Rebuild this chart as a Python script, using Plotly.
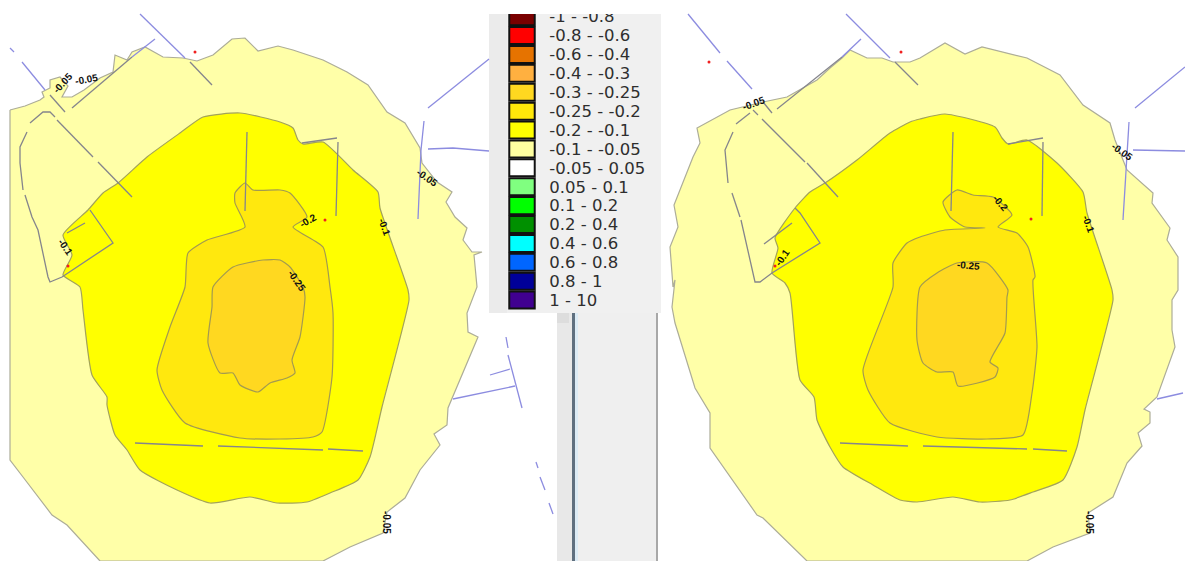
import plotly.graph_objects as go

# ---------- legend ----------
legend_labels = ["-1 - -0.8", "-0.8 - -0.6", "-0.6 - -0.4", "-0.4 - -0.3", "-0.3 - -0.25", "-0.25 - -0.2",
                 "-0.2 - -0.1", "-0.1 - -0.05", "-0.05 - 0.05", "0.05 - 0.1", "0.1 - 0.2", "0.2 - 0.4",
                 "0.4 - 0.6", "0.6 - 0.8", "0.8 - 1", "1 - 10"]
legend_colors = ["#7a0000", "#ff0000", "#e67300", "#ffb040", "#ffd820", "#ffe80a", "#ffff00", "#ffffa0",
                 "#ffffff", "#80ff80", "#00ff00", "#009000", "#00ffff", "#0066ff", "#000099", "#400090"]

# ---------- left map contours ----------
L_band_010 = [(10,110),(25,106),(40,100),(44,97),(42,92),(50,88),(50,80),(60,77),(68,86),(62,97),(72,97),(84,90),(100,78),(113,72),(115,55),
              (127,60),(132,52),(145,47),(163,57),(183,58),(197,61),(213,55),(232,39),(245,38),(258,51),(278,46),
              (293,50),(323,60),(347,72),(368,85),(387,112),(405,123),(420,148),(422,163),(437,182),(452,192),
              (446,202),(455,217),(467,228),(463,240),(472,252),(482,252),(474,255),(477,287),(467,313),(468,332),
              (478,337),(455,392),(448,408),(447,425),(434,434),(440,445),(420,470),(405,498),(387,512),(383,533),
              (350,547),(323,561),(100,561),(67,525),(52,515),(23,477),(10,460)]
L_band_020 = [(63,235),(88,210),(103,193),(118,183),(147,157),(180,133),(203,117),(240,113),(280,122),(293,128),
              (298,140),(303,144),(323,142),(353,170),(378,192),(380,208),(408,290),(409,300),(382,407),(370,457),
              (358,480),(330,493),(307,502),(277,503),(250,497),(210,503),(177,490),(140,470),(127,450),(115,435),
              (107,405),(107,397),(92,375),(83,310),(80,287),(63,275),(72,255)]
L_band_025 = [(253,190),(245,183),(235,193),(235,203),(245,227),(207,240),(188,253),(185,287),(170,327),(157,370),
              (162,390),(185,423),(240,438),(280,439),(313,437),(322,432),(332,377),(333,313),(330,287),(323,247),
              (293,227),(307,217),(290,193),(280,190)]
L_band_030 = [(233,267),(263,260),(280,260),(290,267),(303,287),(305,297),(300,337),(292,360),(295,373),(287,378),
              (270,383),(258,392),(240,385),(233,373),(220,373),(208,343),(212,307),(213,287)]

# ---------- right map contours ----------
R_band_010 = [(673,287),(670,247),(678,227),(674,205),(693,157),(700,143),(697,128),(730,110),(763,102),(787,97),
              (817,80),(830,68),(842,58),(850,50),(867,58),(882,58),(893,62),(910,62),(920,58),(945,43),(965,54),
              (982,47),(1027,58),(1060,75),(1083,105),(1110,123),(1115,140),(1127,170),(1153,193),(1152,203),
              (1170,228),(1167,240),(1178,257),(1178,290),(1172,300),(1172,330),(1175,347),(1157,397),(1144,409),
              (1150,412),(1150,423),(1138,433),(1142,446),(1127,463),(1113,497),(1088,513),(1090,533),(1053,547),
              (1027,561),(807,561),(763,518),(757,515),(710,448),(710,413),(695,388),(675,323),(672,307),(675,280)]
R_band_020 = [(795,208),(810,192),(825,183),(857,160),(890,133),(910,122),(920,119),(945,114),(995,127),(1002,138),
              (1008,144),(1027,140),(1057,163),(1083,192),(1087,213),(1112,290),(1113,300),(1085,410),(1077,447),
              (1063,480),(1033,492),(1010,500),(980,502),(953,497),(917,502),(900,500),(873,485),(843,467),(830,447),
              (817,420),(814,397),(800,380),(790,293),(785,283),(772,273),(778,248),(775,238)]
R_band_025 = [(957,190),(943,202),(950,217),(965,227),(985,228),(945,230),(920,237),(907,243),(893,263),(893,287),
              (863,370),(868,390),(890,423),(937,437),(987,439),(1023,435),(1032,393),(1037,347),(1033,280),(1035,277),
              (1028,247),(1017,233),(998,227),(1012,215),(993,197),(973,195)]
R_band_030 = [(920,287),(937,273),(957,263),(987,263),(1008,290),(1007,297),(1005,333),(990,362),(998,368),(995,377),
              (958,386),(953,372),(937,372),(923,363),(917,340)]

# ---------- pipes ----------
L_pipes_gray = [[(72,108),(132,57)], [(50,95),(65,112)], [(190,62),(212,85)], [(57,120),(93,157)], [(98,162),(132,197)],
                [(30,123),(43,112),(50,112),(55,117)], [(27,132),(20,147),(20,163),(23,190)],
                [(25,195),(32,217),(38,230),(47,270),(48,277),(50,282),(62,277),(113,243),(90,210)],
                [(67,233),(85,223)], [(247,132),(245,211)], [(302,143),(337,138)], [(338,142),(336,216)],
                [(135,443),(203,446)], [(218,446),(323,450)], [(328,449),(363,451)]]
L_pipes_blue = [[(132,57),(155,39)], [(10,48),(14,52)], [(22,62),(45,90)], [(140,14),(185,58)],
                [(428,108),(489,59)], [(424,121),(421,150),(418,219)], [(428,149),(453,148),(489,151)],
                [(506,337),(508,348)], [(508,355),(522,408)], [(490,375),(510,369)], [(453,399),(515,386)],
                [(536,462),(538,468)], [(540,477),(545,490)], [(549,503),(553,514)]]
R_pipes_gray = [[(763,102),(772,113)], [(777,109),(842,57)], [(895,62),(918,85)], [(753,110),(758,115)],
                [(762,119),(805,162)], [(807,163),(838,197)], [(736,124),(750,113)], [(733,132),(725,150),(728,183)],
                [(732,193),(740,217)], [(741,220),(753,273),(755,282),(760,282),(772,273),(820,243),(800,213),(795,208)],
                [(764,244),(792,223)], [(953,132),(951,211)], [(1008,144),(1043,138)], [(1043,142),(1042,216)],
                [(840,443),(908,446)], [(923,446),(1027,449)], [(1033,449),(1067,451)]]
R_pipes_blue = [[(688,14),(720,53)], [(727,61),(752,89)], [(842,57),(861,39)], [(846,14),(890,58)],
                [(1135,108),(1185,67)], [(1129,122),(1123,220)], [(1133,150),(1185,151)], [(1157,399),(1183,393)]]

red_dots = [(195,52),(325,220),(68,266),(709,62),(901,52),(1031,219),(775,266)]

# text, x, y, angle
contour_labels = [("-0.05",62,83,-48),("-0.05",86,79,-10),("-0.1",66,247,55),("-0.2",308,220,-30),("-0.1",385,227,70),
                  ("-0.05",427,177,35),("-0.25",297,280,55),("-0.05",387,522,90),
                  ("-0.05",753,103,-20),("-0.1",782,257,-55),("-0.2",1001,203,50),("-0.25",968,265,5),
                  ("-0.1",1089,224,70),("-0.05",1122,151,35),("-0.05",1090,522,90)]

BAND_COLORS = {"010": "#ffffa8", "020": "#ffff00", "025": "#ffe80e", "030": "#ffd820"}
EDGES = {"010": "#adad98", "020": "#a3a35a", "025": "#a39a50", "030": "#a39a50"}

fig = go.Figure()


def band(points, key):
    xs = [p[0] for p in points] + [points[0][0]]
    ys = [p[1] for p in points] + [points[0][1]]
    line = dict(color=EDGES[key], width=1.2)
    if key != "010":
        line.update(shape="spline", smoothing=0.55)
    fig.add_trace(go.Scatter(x=xs, y=ys, mode="lines", fill="toself", fillcolor=BAND_COLORS[key],
                             line=line, hoverinfo="skip", showlegend=False))


def pipes(lines, color):
    xs, ys = [], []
    for ln in lines:
        xs += [p[0] for p in ln] + [None]
        ys += [p[1] for p in ln] + [None]
    fig.add_trace(go.Scatter(x=xs, y=ys, mode="lines", line=dict(color=color, width=1.3),
                             hoverinfo="skip", showlegend=False))


for pts, key in [(L_band_010, "010"), (L_band_020, "020"), (L_band_025, "025"), (L_band_030, "030"),
                 (R_band_010, "010"), (R_band_020, "020"), (R_band_025, "025"), (R_band_030, "030")]:
    band(pts, key)
pipes(L_pipes_gray + R_pipes_gray, "#85858c")
pipes(L_pipes_blue + R_pipes_blue, "#8c8ce0")
fig.add_trace(go.Scatter(x=[p[0] for p in red_dots], y=[p[1] for p in red_dots], mode="markers",
                         marker=dict(color="#f02020", size=3), hoverinfo="skip", showlegend=False))

fig.add_trace(go.Bar(y=legend_labels, x=[1] * len(legend_labels), orientation="h", width=0.9,
                     marker=dict(color=legend_colors, line=dict(color="#111111", width=2)),
                     xaxis="x2", yaxis="y2", hoverinfo="skip", showlegend=False))

annotations = [dict(text="<b>%s</b>" % t, x=x, y=y, xref="x", yref="y", textangle=a, showarrow=False,
                    font=dict(family="Liberation Sans", size=10, color="#111111"))
               for t, x, y, a in contour_labels]

panel = [(489, 14, 661, 313, "#f0f0f0"), (489, 14, 507, 313, "#ebebeb"), (557, 313, 657, 561, "#efefef"),
         (557, 313, 572, 561, "#e8e8e8"), (572, 313, 575, 561, "#5f7080"), (575, 313, 578, 561, "#dcebf5"),
         (656, 313, 658, 561, "#a8a8a8"), (557, 313, 569, 323, "#dddddd")]
shapes = [dict(type="rect", xref="x", yref="y", x0=a, y0=b, x1=c, y1=d, fillcolor=col,
               line=dict(width=0), layer="below") for a, b, c, d, col in panel]
shapes.append(dict(type="rect", xref="x", yref="y", x0=489, y0=0, x1=661, y1=14, fillcolor="#ffffff",
                   line=dict(width=0), layer="above"))

fig.update_layout(
    width=1185, height=561, margin=dict(l=0, r=0, t=0, b=0), autosize=False,
    paper_bgcolor="#ffffff", plot_bgcolor="rgba(0,0,0,0)",
    xaxis=dict(range=[0, 1185], visible=False, domain=[0, 1], fixedrange=True, automargin=False),
    yaxis=dict(range=[561, 0], visible=False, domain=[0, 1], fixedrange=True, automargin=False),
    xaxis2=dict(range=[-0.05, 1.05], domain=[508 / 1185, 536 / 1185], anchor="y2", visible=False, automargin=False),
    yaxis2=dict(type="category", categoryorder="array", categoryarray=legend_labels[::-1],
                range=[-0.65, 15.14], domain=[1 - 312.4 / 561, 1 - 14 / 561], anchor="x2", side="right",
                automargin=False, showgrid=False, zeroline=False, showline=False, ticks="outside", ticklen=9,
                tickcolor="rgba(0,0,0,0)", tickfont=dict(family="DejaVu Sans", size=16.5, color="#2e2e2e"),
                tickmode="array", tickvals=legend_labels, ticktext=legend_labels),
    annotations=annotations, shapes=shapes,
)

fig.write_html("out.html", config=dict(displayModeBar=False),
               post_script="document.body.style.margin='0';document.body.style.overflow='hidden';")
